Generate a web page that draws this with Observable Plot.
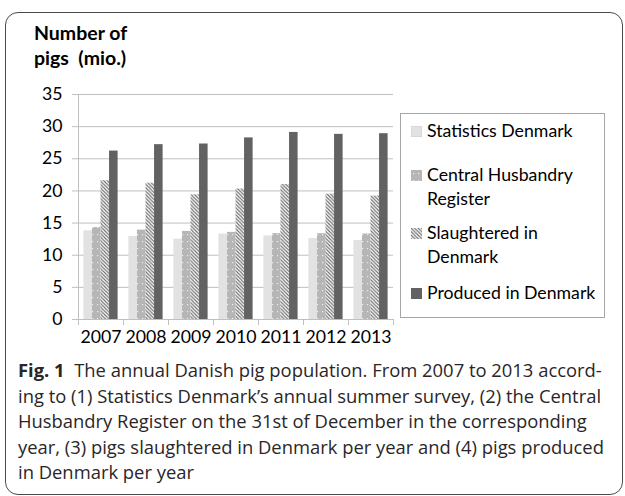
<!DOCTYPE html>
<html><head><meta charset="utf-8">
<script src="https://cdn.jsdelivr.net/npm/d3@7"></script>
<script src="https://cdn.jsdelivr.net/npm/@observablehq/plot@0.6"></script>
<style>
html,body{margin:0;padding:0;background:#fff;}
#root{position:relative;width:625px;height:496px;overflow:hidden;font-family:Lato,sans-serif;color:#000;}
#frame{position:absolute;left:5px;top:12px;width:616px;height:481px;border:1px solid #4a4a4a;border-radius:13px;}
#ytitle{position:absolute;left:34px;top:20px;font-weight:bold;font-size:19.5px;line-height:25px;}
#chart{position:absolute;left:0;top:0;}
#legend{position:absolute;left:400px;top:113px;width:203px;height:203px;border:1px solid #a6a6a6;}
.item{position:absolute;left:10px;display:flex;align-items:flex-start;font-size:17.7px;line-height:24px;white-space:nowrap;}
.item svg{margin-top:6.5px;margin-right:5px;flex:none;}
#caption{position:absolute;left:18px;top:357px;font-family:"Open Sans",sans-serif;font-size:18.4px;line-height:25.5px;color:#2a2627;white-space:nowrap;}
</style></head>
<body>
<svg width="0" height="0" style="position:absolute">
  <defs>
    <pattern id="dots" patternUnits="userSpaceOnUse" width="5" height="7">
      <rect width="5" height="7" fill="#b6b6b6"/>
      <rect x="2" y="3" width="1.2" height="1.2" fill="#ececec"/>
    </pattern>
    <pattern id="hatch" patternUnits="userSpaceOnUse" width="3.5" height="3.5">
      <rect width="3.5" height="3.5" fill="#ffffff"/>
      <path d="M-1,-1 L4.5,4.5 M2.5,-1 L4.5,1 M-1,2.5 L1,4.5" stroke="#6a6a6a" stroke-width="1.1"/>
    </pattern>
  </defs>
</svg>
<div id="root">
  <div id="frame"></div>
  <div id="chart"></div>
  <div id="ytitle">Number of<br>pigs&nbsp; (mio.)</div>
  <div id="legend"></div>
  <div id="caption"></div>
</div>
<script>
// ---- data ----
const years = [2007, 2008, 2009, 2010, 2011, 2012, 2013];
const seriesNames = ["Statistics Denmark", "Central Husbandry Register", "Slaughtered in Denmark", "Produced in Denmark"];
const legendLines = [["Statistics Denmark"], ["Central Husbandry", "Register"], ["Slaughtered in", "Denmark"], ["Produced in Denmark"]];
const statisticsDenmark = [13.8, 12.9, 12.5, 13.3, 13.0, 12.6, 12.3];
const centralHusbandry = [14.3, 13.9, 13.7, 13.55, 13.35, 13.35, 13.3];
const slaughteredDK = [21.6, 21.2, 19.4, 20.3, 21.0, 19.5, 19.2];
const producedDK = [26.2, 27.2, 27.3, 28.25, 29.1, 28.8, 28.9];
const yTicks = [0, 5, 10, 15, 20, 25, 30, 35];
const captionLines = [
  "The annual Danish pig population. From 2007 to 2013 accord-",
  "ing to (1) Statistics Denmark’s annual summer survey, (2) the Central",
  "Husbandry Register on the 31st of December in the corresponding",
  "year, (3) pigs slaughtered in Denmark per year and (4) pigs produced",
  "in Denmark per year"
];

// ---- build ----
const seriesValues = [statisticsDenmark, centralHusbandry, slaughteredDK, producedDK];
const fills = ["#e2e2e2", "url(#dots)", "url(#hatch)", "#626262"];
const rows = years.flatMap((y, j) => seriesNames.map((s, i) => ({year: y, series: s, idx: i, value: seriesValues[i][j]})));
const boundaries = years.map(y => y - 0.5).concat([years[years.length - 1] + 0.5]);
const groupPad = 0.12, barStep = 0.19;
const gridColor = "#bfbfbf";

const chart = Plot.plot({
  width: 400, height: 350,
  marginLeft: 78, marginRight: 7, marginTop: 94, marginBottom: 31,
  style: {fontFamily: "Lato, sans-serif", fontSize: "17.7px", color: "#000", background: "transparent", overflow: "visible"},
  x: {domain: [boundaries[0], boundaries[boundaries.length - 1]], axis: null},
  y: {domain: [0, 35], axis: null},
  marks: [
    Plot.gridY(yTicks, {stroke: gridColor, strokeOpacity: 1}),
    Plot.axisY(yTicks, {tickSize: 6, tickPadding: 10, stroke: gridColor, strokeOpacity: 1, fill: "#000", label: null}),
    Plot.ruleX([boundaries[0]], {stroke: gridColor}),
    Plot.axisX(boundaries, {tickSize: 6, tickFormat: () => "", stroke: gridColor, strokeOpacity: 1, label: null}),
    Plot.axisX(years, {tickSize: 0, tickPadding: 11, tickFormat: d => String(d), fill: "#000", label: null}),
    ...seriesNames.map((s, i) => Plot.rectY(rows.filter(d => d.idx === i), {
      x1: d => d.year - 0.5 + groupPad + d.idx * barStep,
      x2: d => d.year - 0.5 + groupPad + (d.idx + 1) * barStep,
      y: "value",
      fill: fills[i]
    }))
  ]
});
document.getElementById("chart").appendChild(chart);

// legend
const legendTops = [5, 49, 107, 167];
const legend = document.getElementById("legend");
legendLines.forEach((lines, i) => {
  const it = document.createElement("div");
  it.className = "item";
  it.style.top = legendTops[i] + "px";
  it.innerHTML = `<svg width="11" height="11"><rect width="11" height="11" fill="${fills[i]}" ${i === 0 ? 'stroke="#cfcfcf"' : ''}/></svg><div>${lines.join("<br>")}</div>`;
  legend.appendChild(it);
});

// caption
const cap = document.getElementById("caption");
cap.innerHTML = captionLines.map((l, i) => `<div>${i === 0 ? '<b>Fig. 1</b>&nbsp; ' : ''}${l}</div>`).join("");
</script>
</body></html>
